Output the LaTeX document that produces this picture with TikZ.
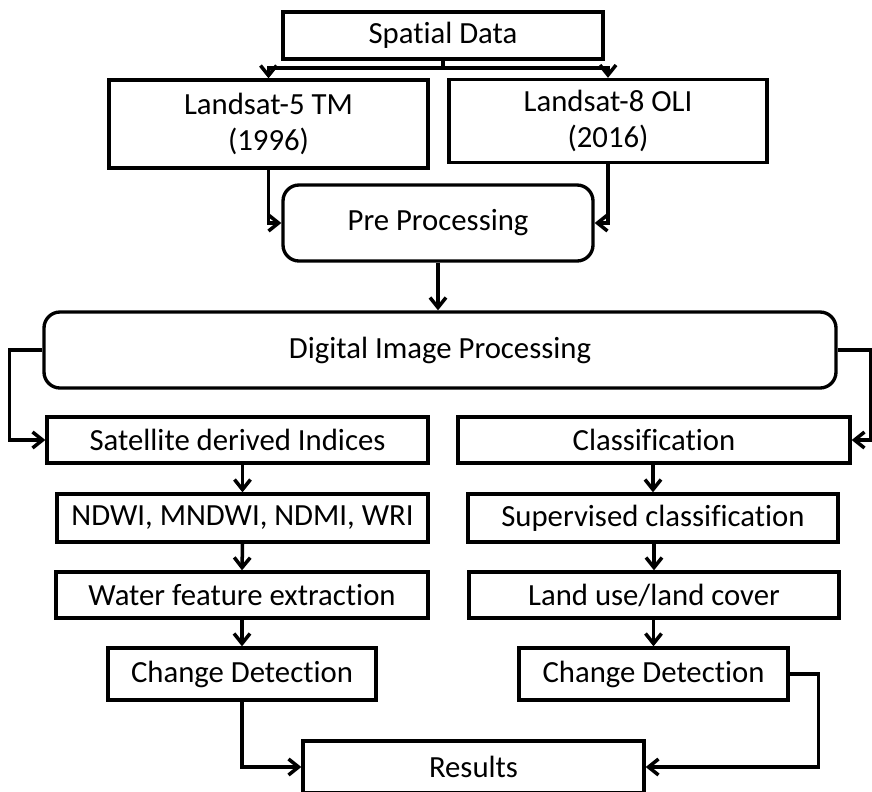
\documentclass[tikz,border=0pt]{standalone}
\usepackage{fontspec}
\setmainfont{Carlito}[Ligatures=NoCommon]
\usetikzlibrary{arrows.meta}
\tikzset{
  box/.style={draw=black, line width=1.9pt, inner sep=0pt, align=center,
    font=\fontsize{17.5}{20.5}\selectfont},
  rbox/.style={box, rounded corners=0.32cm},
  arr/.style={draw=black, line width=2pt,
    -{Straight Barb[length=0.2cm,width=0.32cm,line width=2pt]}}
}
\begin{document}
\begin{tikzpicture}[x=0.02cm, y=-0.02cm]
\clip (0,0) rectangle (872,791);
\node[box, minimum width=320*0.02cm, minimum height=47*0.02cm] (spatial) at(443, 35.5) {Spatial Data};
\node[box, minimum width=319*0.02cm, minimum height=88*0.02cm] (ls5) at(268.5, 124) {Landsat-5 TM\\(1996)};
\node[box, minimum width=318*0.02cm, minimum height=83*0.02cm] (ls8) at(608, 121) {Landsat-8 OLI\\(2016)};
\node[rbox, minimum width=310*0.02cm, minimum height=76*0.02cm] (pre) at(438, 223) {Pre Processing};
\node[rbox, minimum width=792*0.02cm, minimum height=76*0.02cm] (dip) at(440, 350) {Digital Image Processing};
\node[box, minimum width=381*0.02cm, minimum height=46*0.02cm] (sat) at(237.5, 440) {Satellite derived Indices};
\node[box, minimum width=392*0.02cm, minimum height=46*0.02cm] (cls) at(654, 440) {Classification};
\node[box, minimum width=371*0.02cm, minimum height=48*0.02cm] (ndwi) at(242.5, 518) {NDWI, MNDWI, NDMI, WRI};
\node[box, minimum width=370*0.02cm, minimum height=48*0.02cm] (sup) at(653, 518) {Supervised classification};
\node[box, minimum width=372*0.02cm, minimum height=46*0.02cm] (water) at(242, 595) {Water feature extraction};
\node[box, minimum width=370*0.02cm, minimum height=46*0.02cm] (land) at(654, 595) {Land use/land cover};
\node[box, minimum width=268*0.02cm, minimum height=52*0.02cm] (cdl) at(242, 674) {Change Detection};
\node[box, minimum width=269*0.02cm, minimum height=52*0.02cm] (cdr) at(653.5, 674) {Change Detection};
\node[box, minimum width=341*0.02cm, minimum height=52*0.02cm] (res) at(473.5, 767) {Results};
\coordinate (split) at(443, 68);
\draw[line width=2pt] (spatial.south) -- (split);
\draw[arr] (split) -| (ls5.north);
\draw[arr] (split) -| (ls8.north);
\draw[arr] (ls5.south) |- (pre.west);
\draw[arr] (ls8.south) |- (pre.east);
\draw[arr] (pre.south) -- (pre.south |- dip.north);
\draw[arr] (dip.west) -- ++(-33,0) |- (sat.west);
\draw[arr] (dip.east) -- ++(33,0) |- (cls.east);
\draw[arr] (sat.south -| ndwi) -- (ndwi.north);
\draw[arr] (ndwi.south) -- (water.north);
\draw[arr] (water.south) -- (cdl.north);
\draw[arr] (cls.south -| sup) -- (sup.north);
\draw[arr] (sup.south -| land) -- (land.north);
\draw[arr] (land.south -| cdr) -- (cdr.north);
\draw[arr] (cdl.south) |- (res.west);
\draw[arr] (cdr.east) -- ++(29,0) |- (res.east);
\end{tikzpicture}
\end{document}
